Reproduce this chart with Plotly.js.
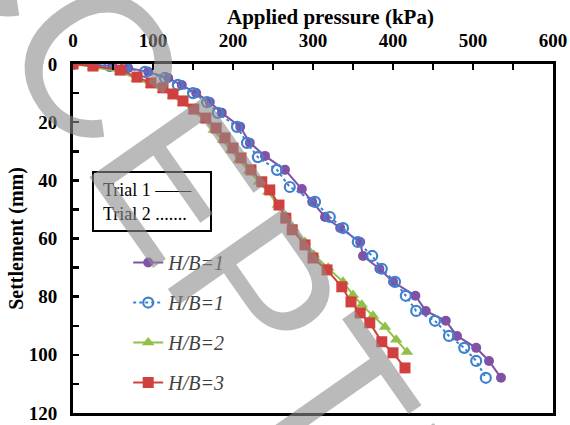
<!DOCTYPE html>
<html><head><meta charset="utf-8">
<script src="https://cdn.plot.ly/plotly-3.0.1.min.js"></script>
<style>html,body{margin:0;padding:0;background:#fff}#chart{width:570px;height:425px}</style>
</head><body><div id="chart"></div>
<script>
// H/B=1, Trial 1
const hb1t1Pressure = [0, 27.5, 49, 69, 94, 119, 136, 154, 171, 186, 209, 221, 240, 265, 286, 299, 315, 334, 359, 362.5, 383, 400, 428, 441, 466, 480, 504, 520, 535];
const hb1t1Settle   = [0, 0.3, 0.7, 1.4, 2.7, 4.8, 7.2, 10.0, 13.1, 16.8, 21.6, 27.1, 31.6, 36.4, 43.0, 47.4, 52.6, 56.4, 61.2, 66.0, 70.4, 74.9, 79.7, 84.9, 88.3, 93.5, 97.6, 102.1, 107.9];
// H/B=1, Trial 2
const hb1t2Pressure = [0, 27.5, 46, 65, 90, 115, 131, 150, 167.5, 181, 205, 217.5, 231, 255, 271, 302.5, 321, 337.5, 356, 374, 386, 402.5, 416, 429, 452.5, 470, 489, 504, 516];
const hb1t2Settle   = [0, 0.3, 0.7, 1.4, 2.7, 4.8, 7.2, 10.0, 13.1, 16.8, 21.6, 27.1, 32.0, 36.4, 42.3, 47.4, 52.6, 56.4, 61.2, 66.0, 70.4, 74.9, 79.7, 84.9, 88.3, 93.5, 97.6, 102.1, 107.9];
// H/B=2
const hb2Pressure = [0, 25, 59, 80, 97.5, 112.5, 125, 137.5, 151, 165, 176, 187.5, 197.5, 207.5, 220, 232.5, 244, 256, 266, 275, 290, 301, 319, 337.5, 350, 361, 375, 390, 404, 417.5];
const hb2Settle   = [0, 1.0, 2.7, 5.2, 7.2, 8.9, 11.0, 13.4, 16.2, 19.2, 22.7, 26.1, 29.6, 33.0, 36.8, 40.5, 44.0, 48.5, 52.2, 56.4, 61.2, 65.6, 70.1, 74.9, 79.4, 82.8, 86.6, 90.4, 94.8, 99.0];
// H/B=3
const hb3Pressure = [0, 25, 59, 80, 97.5, 112.5, 125, 137.5, 151, 166, 179, 190, 200, 210, 222.5, 236, 246, 257.5, 266, 274, 290, 300, 317.5, 336, 347.5, 359, 371, 386, 400, 415];
const hb3Settle   = [0, 0.7, 2.1, 4.5, 6.5, 8.2, 10.3, 12.7, 15.5, 18.6, 22.0, 25.4, 28.9, 32.3, 36.4, 40.5, 43.3, 48.5, 53.0, 57.0, 62.2, 66.7, 70.8, 76.6, 81.8, 85.6, 89.0, 95.5, 99.3, 104.5];

const legendNames = ['H/B=1', 'H/B=1', 'H/B=2', 'H/B=3'];
const xTickVals = [0, 100, 200, 300, 400, 500, 600];
const yTickVals = [0, 20, 40, 60, 80, 100, 120];
const trialLabels = ['Trial 1 ——', 'Trial 2 .......'];
const xTitle = 'Applied pressure (kPa)';
const yTitle = 'Settlement (mm)';
const watermarkText = 'ACCEPTED';

const serif = 'Liberation Serif, Times New Roman, serif';
const traces = [
  {x: hb1t1Pressure, y: hb1t1Settle, name: legendNames[0], mode: 'lines+markers',
   line: {color: '#7f52a8', width: 2}, marker: {symbol: 'circle', size: 10, color: '#7f52a8'}, legendgroup: 'a'},
  {x: hb1t2Pressure, y: hb1t2Settle, name: legendNames[1], mode: 'lines+markers',
   line: {color: '#3f80cf', width: 2, dash: 'dot'}, marker: {symbol: 'circle-open', size: 10, color: '#3f80cf', line: {width: 2.2, color: '#3f80cf'}}, legendgroup: 'b'},
  {x: hb2Pressure, y: hb2Settle, name: legendNames[2], mode: 'lines+markers',
   line: {color: '#92c047', width: 2}, marker: {symbol: 'triangle-up', size: 11, color: '#92c047'}, legendgroup: 'c'},
  {x: hb3Pressure, y: hb3Settle, name: legendNames[3], mode: 'lines+markers',
   line: {color: '#d0403e', width: 2}, marker: {symbol: 'square', size: 11, color: '#d0403e'}, legendgroup: 'd'}
];

const axisCommon = {
  showgrid: false, zeroline: false, showline: true, linecolor: '#000', linewidth: 3, mirror: true,
  ticks: 'inside', ticklen: 6, tickwidth: 2.5, tickcolor: '#000', automargin: false,
  tickfont: {family: serif, size: 19, color: '#000', weight: 'bold'}
};

const layout = {
  width: 570, height: 425,
  margin: {l: 73, r: 17, t: 64, b: 12},
  paper_bgcolor: '#fff', plot_bgcolor: '#fff',
  showlegend: true,
  legend: {x: 0.115, y: 0.487, xanchor: 'left', yanchor: 'top', bgcolor: 'rgba(0,0,0,0)',
           font: {family: serif, size: 20, color: '#404040', style: 'italic'}, tracegroupgap: 11},
  xaxis: Object.assign({}, axisCommon, {
    side: 'top', range: [0, 600], tickvals: xTickVals, ticktext: xTickVals.map(String), ticklabelstandoff: 6,
    minor: {dtick: 50, ticks: 'inside', ticklen: 6, tickwidth: 2.5, tickcolor: '#000'}
  }),
  yaxis: Object.assign({}, axisCommon, {
    range: [120, 0], tickvals: yTickVals, ticktext: yTickVals.map(String), ticklabelstandoff: 9,
    minor: {dtick: 10, ticks: 'inside', ticklen: 6, tickwidth: 2.5, tickcolor: '#000'},
    title: {text: yTitle, font: {family: serif, size: 20, color: '#000', weight: 'bold'}, standoff: 0}
  }),
  shapes: [
    {type: 'rect', xref: 'paper', yref: 'paper', x0: (93-73)/480, x1: (211-73)/480, y0: (413-231)/349, y1: (413-172)/349,
     line: {color: '#000', width: 2}, fillcolor: 'rgba(0,0,0,0)'}
  ],
  annotations: [
    {xref: 'paper', yref: 'paper', x: (330-73)/480, y: (413-17)/349, xanchor: 'center', yanchor: 'middle', showarrow: false,
     text: xTitle, font: {family: serif, size: 21, color: '#000', weight: 'bold'}},
    {xref: 'paper', yref: 'paper', x: (101-73)/480, y: (413-190)/349, xanchor: 'left', yanchor: 'middle', showarrow: false,
     text: trialLabels[0], font: {family: serif, size: 18, color: '#000'}},
    {xref: 'paper', yref: 'paper', x: (101-73)/480, y: (413-214)/349, xanchor: 'left', yanchor: 'middle', showarrow: false,
     text: trialLabels[1], font: {family: serif, size: 18, color: '#000'}},
    {xref: 'paper', yref: 'paper', x: 0.285, y: 0.539, xanchor: 'center', yanchor: 'middle', showarrow: false,
     text: watermarkText, textangle: 55, font: {family: 'Liberation Sans, Arial, sans-serif', size: 205, color: 'rgba(140,140,140,0.6)'}}
  ]
};

Plotly.newPlot('chart', traces, layout, {displayModeBar: false, staticPlot: true});
</script></body></html>
